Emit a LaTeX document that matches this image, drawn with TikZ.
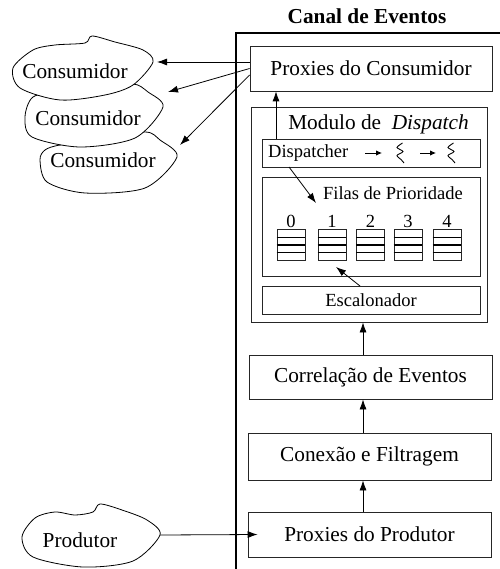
\documentclass[tikz,border=0pt]{standalone}
\usepackage{fontspec}
\setmainfont{Liberation Serif}
\usetikzlibrary{arrows.meta}
\begin{document}
\begin{tikzpicture}[x=1pt,y=-1pt,
  big/.style={font=\fontsize{21.3}{24}\selectfont},
  small/.style={font=\fontsize{18.5}{21}\selectfont},
  box/.style={draw=black!85,line width=0.8pt,inner sep=0pt,fill=white},
  arr/.style={-{Latex[length=10pt,width=7pt]},line width=0.8pt},
  tinyarr/.style={-{Latex[length=6pt,width=5.5pt]},line width=0.9pt},
  cloud/.style={draw,line width=0.8pt,fill=white},
  queue/.style={draw=black!85,line width=0.8pt,minimum width=28pt,minimum height=31pt,inner sep=0pt}]
\useasboundingbox (0,0) rectangle (499,569);
% frame
\draw[line width=2.6pt] (236,569) -- (236,33) -- (500,33);
\node[font=\fontsize{21.3}{24}\selectfont\bfseries] (title) at (367,16) {Canal de Eventos};
% boxes
\node[box,big,minimum width=242pt,minimum height=45pt] (pc) at (371,68.5) {Proxies do Consumidor};
\node[box,minimum width=236pt,minimum height=215pt] (mod) at (369,214.5) {};
\node[big,inner sep=0pt] (modt) at (378.5,124) {Modulo de~~\textit{Dispatch}};
\node[box,minimum width=218pt,minimum height=28pt] (disp) at (371,153) {};
\node[small,inner sep=0pt,anchor=west] (dispt) at (268,153) {Dispatcher};
\node[box,minimum width=218pt,minimum height=99pt] (filas) at (371,226.5) {};
\node[small,inner sep=0pt] (filast) at (393,193) {Filas de Prioridade};
\node[box,small,minimum width=218pt,minimum height=28pt] (esc) at (371,300) {Escalonador};
\node[box,big,minimum width=243pt,minimum height=44pt] (corr) at (370.5,377) {Correla\c{c}\~ao de Eventos};
\node[box,big,minimum width=243pt,minimum height=47pt] (con) at (369.5,456.5) {Conex\~ao e Filtragem};
\node[box,big,minimum width=243pt,minimum height=45pt] (pp) at (369.5,534.5) {Proxies do Produtor};
% queues
\foreach \i/\x in {0/291,1/332,2/370.5,3/408,4/447}{
  \node[queue] (q\i) at (\x,244.6) {};
  \draw[line width=0.8pt] (q\i.west |- 0,237.3) -- (q\i.east |- 0,237.3);
  \draw[line width=1.6pt] (q\i.west |- 0,245) -- (q\i.east |- 0,245);
  \draw[line width=0.8pt] (q\i.west |- 0,252.7) -- (q\i.east |- 0,252.7);
  \node[small,inner sep=0pt] (n\i) at (\x,221) {\i};
}
% dispatcher threads
\coordinate (a1s) at (365,153); \coordinate (a1e) at (382,153);
\coordinate (a2s) at (420,153); \coordinate (a2e) at (436,153);
\draw[tinyarr] (a1s) -- (a1e);
\draw[tinyarr] (a2s) -- (a2e);
\foreach \x in {400,451}{
  \draw[line width=0.9pt] plot[smooth] coordinates {(\x+2.5,143) (\x-3,147.5) (\x+3,151.5) (\x-3,155.5) (\x+1,159.5) (\x+4,163)};
}
% clouds
\draw[cloud] plot[smooth cycle] coordinates {(40,160) (47,182) (85,193) (145,188) (177,157) (160,140) (145,132) (100,140) (60,145) (45,150)};
\draw[cloud] plot[smooth cycle] coordinates {(25,117) (32,137) (80,147) (135,138) (163,107) (148,92) (133,84) (100,90) (60,92) (33,97)};
\draw[cloud] plot[smooth cycle] coordinates {(13,68) (20,88) (60,100) (105,95) (133,85) (153,62) (143,50) (115,42) (92,36) (85,43) (55,45) (33,50)};
\draw[cloud] plot[smooth cycle] coordinates {(22,537) (33,557) (83,567) (133,561) (160,535) (147,520) (122,510) (100,504) (93,512) (75,515) (55,512) (35,518)};
\node[big,inner sep=0pt] (c1) at (75,71) {Consumidor};
\node[big,inner sep=0pt] (c2) at (88,118) {Consumidor};
\node[big,inner sep=0pt] (c3) at (103,160) {Consumidor};
\node[big,inner sep=0pt] (prod) at (80,540) {Produtor};
% connector end points
\coordinate (c1r) at (157,62);
\coordinate (c2r) at (168,92);
\coordinate (c3r) at (180,145);
\coordinate (prodr) at (160,535);
\coordinate (dtop) at (276,139);
\coordinate (dbot) at (289,167);
\coordinate (fq) at (316,203);
\coordinate (etop) at (360,286);
\coordinate (fq2) at (336,267);
\coordinate (col) at (363,0);
% connectors
\draw[arr] ([yshift=6.5pt]pc.west) -- (c1r);
\draw[arr] (pc.west) -- (c2r);
\draw[arr] ([yshift=-6.5pt]pc.west) -- (c3r);
\draw[arr] (dtop) -- (dtop |- pc.south);
\draw[arr] (dbot) -- (fq);
\draw[arr] (etop) -- (fq2);
\draw[arr] (col |- corr.north) -- (col |- mod.south);
\draw[arr] (col |- con.north) -- (col |- corr.south);
\draw[arr] (col |- pp.north) -- (col |- con.south);
\draw[arr] (prodr) -- ([xshift=10pt]pp.west);
\end{tikzpicture}
\end{document}
